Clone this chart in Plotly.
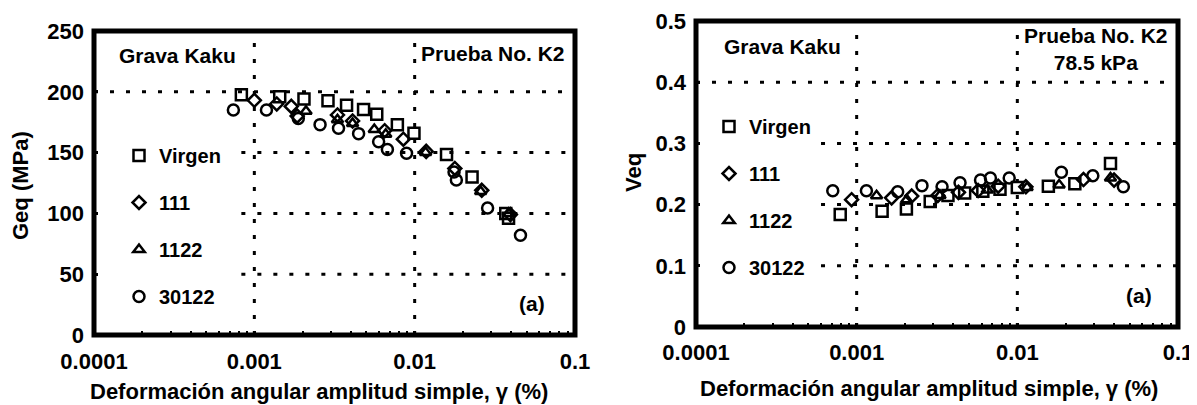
import plotly.graph_objects as go

# ---------------- data ----------------
SERIES = ["Virgen", "111", "1122", "30122"]
SYMBOLS = ["square-open", "diamond-open", "triangle-up-open", "circle-open"]
SIZES = [11, 10, 10, 11]

# Geq (MPa) vs shear strain (%)
geq_virgen_x = [0.00083, 0.00144, 0.00204, 0.00288, 0.00376, 0.0048, 0.0058, 0.0078, 0.0099, 0.0158, 0.0228, 0.037, 0.0385]
geq_virgen_y = [197.5, 196, 194, 192.6, 189, 185.5, 181.5, 173, 166, 148.5, 130, 100, 96]
geq_111_x = [0.001, 0.00138, 0.0017, 0.00185, 0.0033, 0.0041, 0.0065, 0.0085, 0.0118, 0.0178, 0.0262, 0.0395]
geq_111_y = [193, 190, 188, 180, 181, 176, 168, 161, 151, 137, 119, 99]
geq_1122_x = [0.0021, 0.0033, 0.0041, 0.0056, 0.0066, 0.0117, 0.0258, 0.0385]
geq_1122_y = [184, 177, 174, 169, 165, 150, 118, 100]
geq_30122_x = [0.00074, 0.00119, 0.00188, 0.00257, 0.00335, 0.00447, 0.00596, 0.00676, 0.0089, 0.0176, 0.0182, 0.0285, 0.0457]
geq_30122_y = [185, 185, 178, 173, 170, 165.6, 159, 152.5, 149.5, 134, 127.5, 104.5, 82]

# Veq vs shear strain (%)
veq_virgen_x = [0.00079, 0.00144, 0.00204, 0.00287, 0.0037, 0.0047, 0.0061, 0.0078, 0.0100, 0.0156, 0.0228, 0.038]
veq_virgen_y = [0.184, 0.189, 0.193, 0.205, 0.215, 0.219, 0.222, 0.225, 0.228, 0.230, 0.234, 0.267]
veq_111_x = [0.00093, 0.00165, 0.0022, 0.0032, 0.0043, 0.0057, 0.0076, 0.0113, 0.0258, 0.040]
veq_111_y = [0.208, 0.211, 0.214, 0.215, 0.220, 0.223, 0.230, 0.229, 0.241, 0.240]
veq_1122_x = [0.00133, 0.00205, 0.0033, 0.0065, 0.0115, 0.0182, 0.038]
veq_1122_y = [0.2145, 0.208, 0.215, 0.224, 0.228, 0.232, 0.2435]
veq_30122_x = [0.00071, 0.00115, 0.0018, 0.00255, 0.0034, 0.0044, 0.0059, 0.0068, 0.0089, 0.0188, 0.0295, 0.0457]
veq_30122_y = [0.2226, 0.2226, 0.221, 0.231, 0.229, 0.2355, 0.240, 0.2435, 0.2435, 0.253, 0.247, 0.229]

GEQ = [(geq_virgen_x, geq_virgen_y), (geq_111_x, geq_111_y), (geq_1122_x, geq_1122_y), (geq_30122_x, geq_30122_y)]
VEQ = [(veq_virgen_x, veq_virgen_y), (veq_111_x, veq_111_y), (veq_1122_x, veq_1122_y), (veq_30122_x, veq_30122_y)]

X_TICKS = [0.0001, 0.001, 0.01, 0.1]
X_TICKTEXT = ["0.0001", "0.001", "0.01", "0.1"]
GEQ_TICKS = [0, 50, 100, 150, 200, 250]
VEQ_TICKS = [0, 0.1, 0.2, 0.3, 0.4, 0.5]
VEQ_TICKTEXT = ["0", "0.1", "0.2", "0.3", "0.4", "0.5"]

GEQ_FULL_GRID = [200]
GEQ_PART_GRID = [150, 100, 50]
VEQ_FULL_GRID = [0.4]
VEQ_PART_GRID = [0.3, 0.2, 0.1]
V_GRID = [0.001, 0.01]

XTITLE = "Deformación angular amplitud simple, γ (%)"

# ---------------- figure ----------------
OFF = 8                      # page body margin in the browser
W, H = 1197 - OFF, 405 - OFF
FONT = "Liberation Sans, Arial, Helvetica, sans-serif"
FS = 21
FT = 22

def px(x):
    return (x - OFF) / W

def py(y):
    return 1 - (y - OFF) / H

fig = go.Figure()

for i, name in enumerate(SERIES):
    mk = dict(symbol=SYMBOLS[i], size=SIZES[i], color="black", line=dict(color="black", width=2.5))
    fig.add_trace(go.Scatter(x=GEQ[i][0], y=GEQ[i][1], mode="markers", name=name, marker=mk,
                             xaxis="x", yaxis="y", legend="legend", legendgroup="L" + name))
    fig.add_trace(go.Scatter(x=VEQ[i][0], y=VEQ[i][1], mode="markers", name=name, marker=mk,
                             xaxis="x2", yaxis="y2", legend="legend2", legendgroup="R" + name))

axis_common = dict(showgrid=False, zeroline=False, showline=False, automargin=False,
                   tickfont=dict(family=FONT, size=FT, color="black", weight="bold"))

xcommon = dict(axis_common, type="log", range=[-4, -1], tickvals=X_TICKS, ticktext=X_TICKTEXT,
               ticks="inside", ticklen=4, tickwidth=3, tickcolor="black",
               minor=dict(ticks="inside", ticklen=4, tickwidth=2, tickcolor="black", dtick="D1"))

fig.update_layout(
    width=W, height=H,
    margin=dict(l=0, r=0, t=0, b=0),
    paper_bgcolor="white", plot_bgcolor="white",
    xaxis=dict(xcommon, domain=[px(94), px(575)], anchor="y", ticklabelstandoff=11),
    yaxis=dict(axis_common, domain=[py(335), py(31)], anchor="x", range=[0, 250],
               tickvals=GEQ_TICKS, ticks="inside", ticklen=4, tickwidth=3, tickcolor="black",
               ticklabelstandoff=9),
    xaxis2=dict(xcommon, domain=[px(696), px(1178)], anchor="y2", ticklabelstandoff=10),
    yaxis2=dict(axis_common, domain=[py(327), py(21)], anchor="x2", range=[0, 0.5],
                tickvals=VEQ_TICKS, ticktext=VEQ_TICKTEXT, ticks="inside", ticklen=4, tickwidth=3,
                tickcolor="black", ticklabelstandoff=9),
    legend=dict(x=px(119), xanchor="left", y=py(136), yanchor="top", bgcolor="rgba(0,0,0,0)",
                font=dict(family=FONT, size=20, color="black", weight="bold"),
                tracegroupgap=18, itemwidth=30),
    legend2=dict(x=px(709), xanchor="left", y=py(107), yanchor="top", bgcolor="rgba(0,0,0,0)",
                 font=dict(family=FONT, size=20, color="black", weight="bold"),
                 tracegroupgap=18, itemwidth=30),
)

# thick frames
for xr, yr in (("x domain", "y domain"), ("x2 domain", "y2 domain")):
    fig.add_shape(type="rect", xref=xr, yref=yr, x0=0, x1=1, y0=0, y1=1,
                  line=dict(color="black", width=5), layer="above")

# dotted grid lines
DOT = dict(color="black", width=3, dash="4px,12px")
for g in GEQ_FULL_GRID:
    fig.add_shape(type="line", xref="x", yref="y", x0=X_TICKS[0], x1=X_TICKS[-1], y0=g, y1=g, line=DOT, layer="below")
for g in GEQ_PART_GRID:
    fig.add_shape(type="line", xref="x", yref="y", x0=0.00083, x1=X_TICKS[-1], y0=g, y1=g, line=DOT, layer="below")
for g in VEQ_FULL_GRID:
    fig.add_shape(type="line", xref="x2", yref="y2", x0=X_TICKS[0], x1=X_TICKS[-1], y0=g, y1=g, line=DOT, layer="below")
for g in VEQ_PART_GRID:
    fig.add_shape(type="line", xref="x2", yref="y2", x0=0.0006, x1=X_TICKS[-1], y0=g, y1=g, line=DOT, layer="below")
for v in V_GRID:
    fig.add_shape(type="line", xref="x", yref="y", x0=v, x1=v, y0=0, y1=250, line=DOT, layer="below")
    fig.add_shape(type="line", xref="x2", yref="y2", x0=v, x1=v, y0=0, y1=0.5, line=DOT, layer="below")

def ann(text, x, y, xanchor="center", angle=0, size=FS):
    fig.add_annotation(text=text, x=px(x), y=py(y), xref="paper", yref="paper",
                       xanchor=xanchor, yanchor="middle", showarrow=False, textangle=angle,
                       font=dict(family=FONT, size=size, color="black", weight="bold"))

# left panel texts
ann("Grava Kaku", 117, 55, "left")
ann("Prueba No. K2", 567, 53, "right")
ann("(a)", 532, 303)
ann(XTITLE, 319, 391, size=FT)
ann("Geq (MPa)", 20, 186, angle=-90, size=FT)

# right panel texts
ann("Grava Kaku", 722, 47, "left")
ann("Prueba No. K2<br>78.5 kPa", 1096, 49)
ann("(a)", 1139, 295)
ann(XTITLE, 929, 388, size=FT)
ann("Veq", 633, 173, angle=-90, size=FT)

fig.write_html("out.html")
